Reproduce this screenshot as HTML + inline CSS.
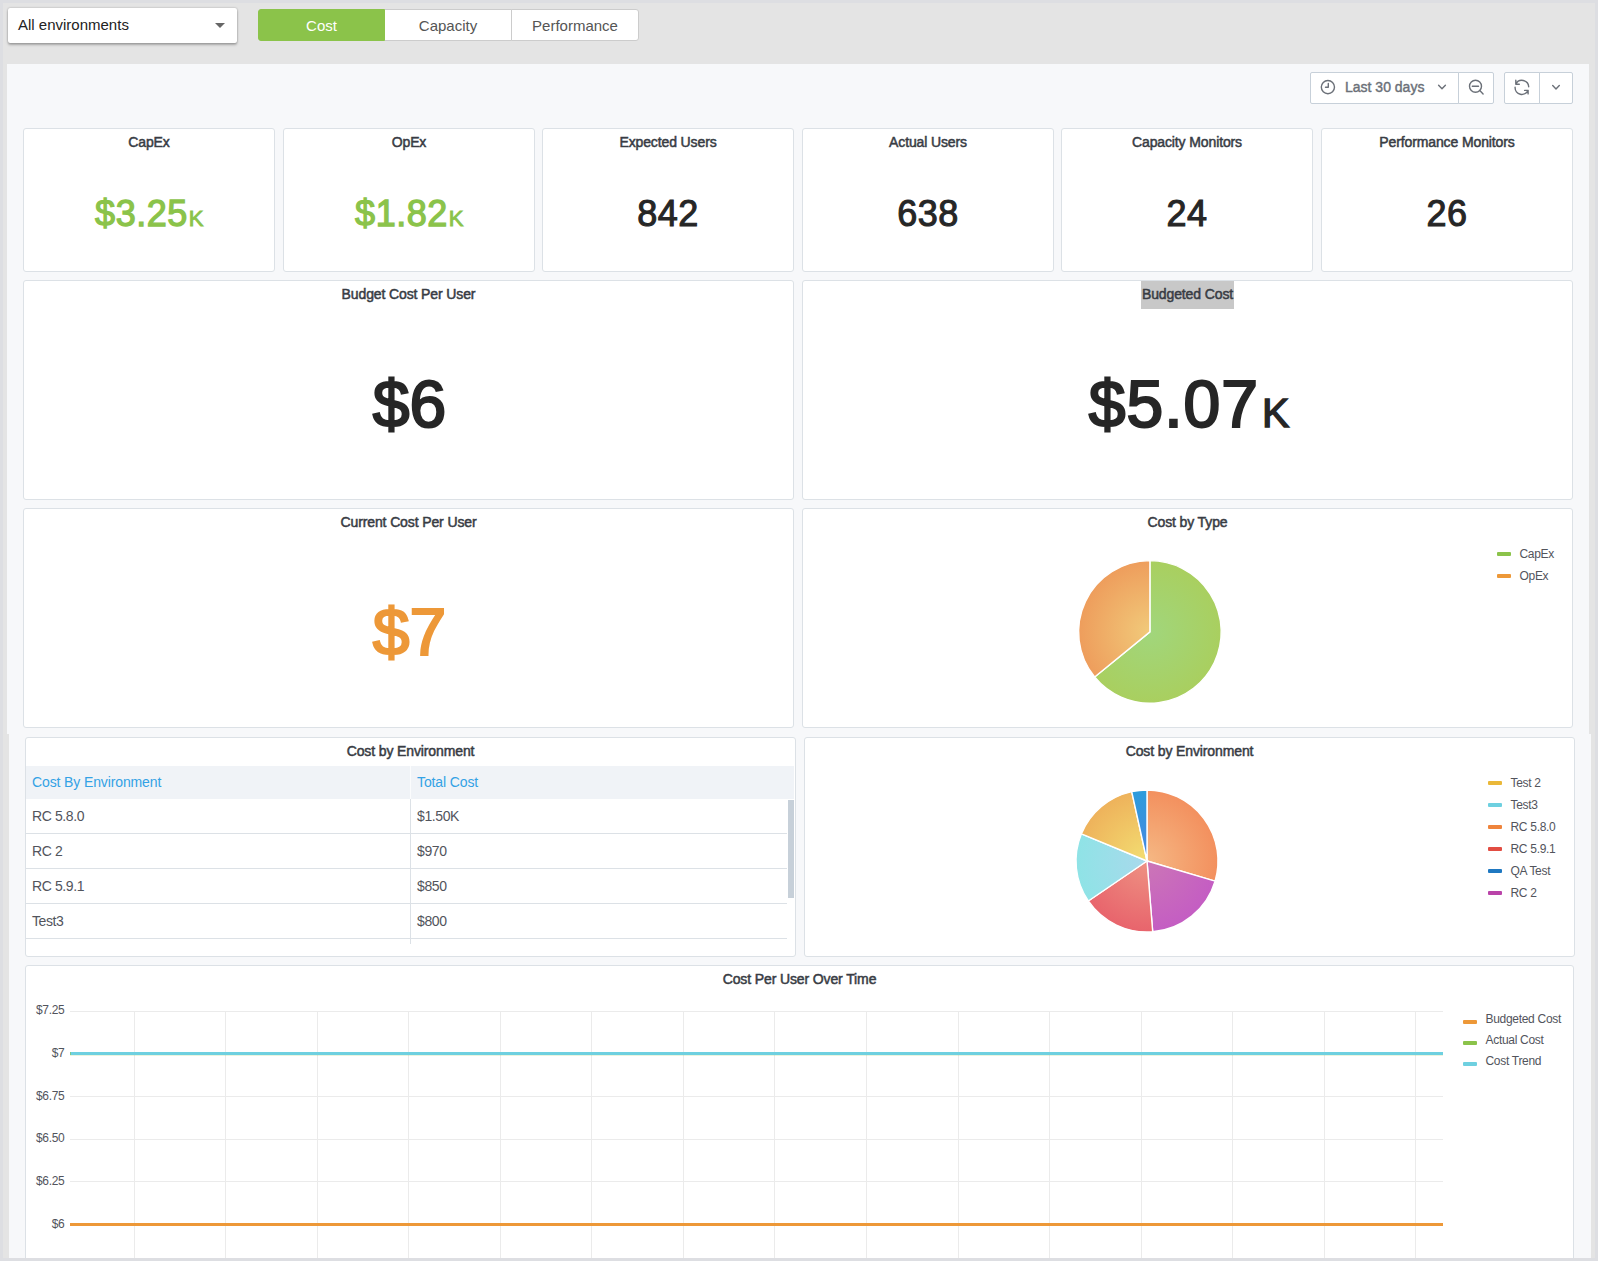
<!DOCTYPE html>
<html lang="en">
<head>
<meta charset="utf-8">
<title>Cost Dashboard</title>
<style>
*{box-sizing:border-box;margin:0;padding:0}
html,body{width:1598px;height:1261px;overflow:hidden}
body{background:#e4e4e4;font-family:"Liberation Sans",Arial,sans-serif;color:#52545c;position:relative}
.abs{position:absolute}
#frame{position:absolute;left:0;top:0;width:1598px;height:1261px;border:3px solid #dddee2;pointer-events:none;z-index:50}
/* toolbar */
#envsel{left:8px;top:8px;width:229px;height:35px;background:#fff;border-radius:2px;box-shadow:0 2px 2.5px rgba(0,0,0,.26),0 0 2px rgba(0,0,0,.3);font-size:15px;color:#222;line-height:33px;padding-left:10px}
#envsel i{position:absolute;left:207px;top:15px;width:0;height:0;border-left:5px solid transparent;border-right:5px solid transparent;border-top:5px solid #666}
.tab{position:absolute;top:9px;height:32px;background:#fff;border:1px solid #ccc;text-align:center;font-size:15px;line-height:31px;color:#555}
/* inner grafana */
.bg{background:#f7f8fa}
.panel{position:absolute;background:#fff;border:1px solid #dce1e6;border-radius:3px}
.title{position:absolute;left:0;right:0;top:0;height:28px;line-height:27px;text-align:center;font-size:14px;font-weight:normal;-webkit-text-stroke:0.5px #383c44;color:#383c44;white-space:nowrap;letter-spacing:-.12px}
.val{position:absolute;left:0;right:0;text-align:center;white-space:nowrap;font-weight:normal;-webkit-text-stroke:0.03em currentColor}
.btn{position:absolute;background:#fff;border:1px solid #c7d0d9;height:32px}
.leg{position:absolute;font-size:12px;line-height:14px;white-space:nowrap;color:#52545c;letter-spacing:-.3px}
.leg i{position:absolute;left:0;top:5px;width:14px;height:4px;border-radius:1px}
.leg span{position:absolute;left:22.5px;top:0}
.th{font-size:14px;line-height:32px;color:#33a2e5;white-space:nowrap;letter-spacing:-.12px}
.tr{left:0;width:761px;letter-spacing:-.4px;height:35px;border-bottom:1px solid #dce1e6;font-size:14px;line-height:34px;color:#52545c;white-space:nowrap}
.tr span{position:absolute;left:6px;top:0}.tr span+span{left:391px}
</style>
</head>
<body>
<div class="abs" id="envsel">All environments<i></i></div>
<div class="tab" style="left:258px;width:127px;background:#8bc34a;border-color:#8bc34a;color:#fff;border-radius:3px 0 0 3px">Cost</div>
<div class="tab" style="left:385px;width:127px;border-left:0">Capacity</div>
<div class="tab" style="left:511px;width:128px;border-radius:0 3px 3px 0">Performance</div>

<div class="abs bg" style="left:7px;top:64px;width:1582px;height:670px"></div>
<div class="abs bg" style="left:9px;top:734px;width:1582px;height:527px"></div>


<!-- time picker -->
<div class="btn" style="left:1310px;top:72px;width:149px;border-radius:2px 0 0 2px"></div>
<div class="btn" style="left:1458px;top:72px;width:36px;border-radius:0 2px 2px 0"></div>
<div class="btn" style="left:1504px;top:72px;width:36px;border-radius:2px 0 0 2px"></div>
<div class="btn" style="left:1539px;top:72px;width:34px;border-radius:0 2px 2px 0"></div>
<div class="abs" style="left:1345px;top:72px;height:32px;line-height:31px;font-size:14px;-webkit-text-stroke:0.4px #6b7078;color:#6b7078;white-space:nowrap">Last 30 days</div>
<svg class="abs" style="left:1310px;top:72px" width="264" height="32" viewBox="0 0 264 32" fill="none" stroke="#6b7078" stroke-width="1.4" stroke-linecap="round" stroke-linejoin="round">
<circle cx="17.9" cy="15.1" r="6.6"/><path d="M18.3 11.5v3.7h-2.8"/>
<path d="M128.6 13.2l3.4 3.5 3.4-3.5"/>
<circle cx="165.5" cy="14.3" r="6"/><path d="M162.3 14.3h6.2M169.8 18.6l3.3 3.3"/>
<path d="M205.8 12.2A6.8 6.8 0 0 1 218.7 14.8M218.1 18.4A6.8 6.8 0 0 1 205.1 15.3M205.8 8.300v3.900h3.500M218.100 21.900v-3.500h-3.500"/>
<path d="M242.700 13.500l3.300 3.400 3.300-3.400"/>
</svg>

<!-- row 1 stats -->
<div class="panel" style="left:23px;top:128px;width:252px;height:144px"><div class="title">CapEx</div><div class="val" style="top:62px;font-size:36px;line-height:46px;letter-spacing:.5px;-webkit-text-stroke-width:1.3px;padding-left:1px;color:#8bc34a">$3.25<span style="font-size:22px;-webkit-text-stroke-width:.9px;margin-left:1px">K</span></div></div>
<div class="panel" style="left:283px;top:128px;width:252px;height:144px"><div class="title">OpEx</div><div class="val" style="top:62px;font-size:36px;line-height:46px;letter-spacing:.5px;-webkit-text-stroke-width:1.3px;padding-left:1px;color:#8bc34a">$1.82<span style="font-size:22px;-webkit-text-stroke-width:.9px;margin-left:1px">K</span></div></div>
<div class="panel" style="left:542px;top:128px;width:252px;height:144px"><div class="title">Expected Users</div><div class="val" style="top:62px;font-size:36px;line-height:46px;letter-spacing:.5px;-webkit-text-stroke-width:1.05px;color:#262626">842</div></div>
<div class="panel" style="left:802px;top:128px;width:252px;height:144px"><div class="title">Actual Users</div><div class="val" style="top:62px;font-size:36px;line-height:46px;letter-spacing:.5px;-webkit-text-stroke-width:1.05px;color:#262626">638</div></div>
<div class="panel" style="left:1061px;top:128px;width:252px;height:144px"><div class="title">Capacity Monitors</div><div class="val" style="top:62px;font-size:36px;line-height:46px;letter-spacing:.5px;-webkit-text-stroke-width:1.05px;color:#262626">24</div></div>
<div class="panel" style="left:1321px;top:128px;width:252px;height:144px"><div class="title">Performance Monitors</div><div class="val" style="top:62px;font-size:36px;line-height:46px;letter-spacing:.5px;-webkit-text-stroke-width:1.05px;color:#262626">26</div></div>

<!-- row 2 -->
<div class="panel" style="left:23px;top:280px;width:771px;height:220px"><div class="title">Budget Cost Per User</div><div class="val" style="top:83px;padding-left:2px;font-size:66px;line-height:80px;-webkit-text-stroke-width:.034em;color:#262626">$6</div></div>
<div class="panel" style="left:802px;top:280px;width:771px;height:220px"><div class="title"><span style="background:#c8c8c8;display:inline-block;height:28px;padding:0 1px">Budgeted Cost</span></div><div class="val" style="top:83px;font-size:66px;line-height:80px;-webkit-text-stroke-width:.034em;color:#262626;letter-spacing:1px;padding-left:4px">$5.07<span style="font-size:41px;-webkit-text-stroke-width:1.4px;margin-left:3px">K</span></div></div>

<!-- row 3 -->
<div class="panel" style="left:23px;top:508px;width:771px;height:220px"><div class="title">Current Cost Per User</div><div class="val" style="top:83px;padding-left:2px;font-size:66px;line-height:80px;-webkit-text-stroke-width:.034em;color:#ed9838">$7</div></div>
<div class="panel" style="left:802px;top:508px;width:771px;height:220px"><div class="title">Cost by Type</div>
<div class="leg" style="left:694px;top:38px"><i style="background:#8bc34a"></i><span>CapEx</span></div>
<div class="leg" style="left:694px;top:60px"><i style="background:#ed9838"></i><span>OpEx</span></div>
</div>



<!-- table panel -->
<div class="panel" style="left:25px;top:737px;width:771px;height:220px;overflow:hidden"><div class="title">Cost by Environment</div>
<div class="abs" style="left:0;top:28px;width:768px;height:33px;background:#f0f3f7"></div>
<div class="abs" style="left:384px;top:28px;width:1px;height:33px;background:#fbfcfd"></div>
<div class="abs" style="left:384px;top:61px;width:1px;height:145px;background:#dce1e6"></div>
<div class="abs th" style="left:6px;top:28px">Cost By Environment</div><div class="abs th" style="left:391px;top:28px">Total Cost</div>
<div class="abs tr" style="top:61px"><span>RC 5.8.0</span><span>$1.50K</span></div>
<div class="abs tr" style="top:96px"><span>RC 2</span><span>$970</span></div>
<div class="abs tr" style="top:131px"><span>RC 5.9.1</span><span>$850</span></div>
<div class="abs tr" style="top:166px"><span>Test3</span><span>$800</span></div>
<div class="abs" style="left:762px;top:62px;width:6px;height:98px;background:#c7d0d9"></div>
</div>

<!-- pie 2 panel -->
<div class="panel" style="left:804px;top:737px;width:771px;height:220px;"><div class="title">Cost by Environment</div>
<div class="leg" style="left:683px;top:38px"><i style="background:#eab839"></i><span>Test 2</span></div>
<div class="leg" style="left:683px;top:60px"><i style="background:#6ed0e0"></i><span>Test3</span></div>
<div class="leg" style="left:683px;top:82px"><i style="background:#ef843c"></i><span>RC 5.8.0</span></div>
<div class="leg" style="left:683px;top:104px"><i style="background:#e24d42"></i><span>RC 5.9.1</span></div>
<div class="leg" style="left:683px;top:126px"><i style="background:#1f78c1"></i><span>QA Test</span></div>
<div class="leg" style="left:683px;top:148px"><i style="background:#ba43a9"></i><span>RC 2</span></div>
</div>

<!-- graph panel -->
<div class="panel" style="left:25px;top:965px;width:1549px;height:310px"><div class="title">Cost Per User Over Time</div>
<div class="leg" style="left:1437px;top:46px"><i style="background:#ed9838;top:8px"></i><span>Budgeted Cost</span></div>
<div class="leg" style="left:1437px;top:67px"><i style="background:#8bc34a;top:8px"></i><span>Actual Cost</span></div>
<div class="leg" style="left:1437px;top:88px"><i style="background:#6ed0e0;top:8px"></i><span>Cost Trend</span></div>
</div>
<svg class="abs" style="left:0;top:965px" width="1598" height="296" viewBox="0 965 1598 296" shape-rendering="crispEdges">
<g stroke="#ebebeb" stroke-width="1">
<path d="M70 1011.5H1443"/><path d="M70 1053.5H1443"/><path d="M70 1096.5H1443"/><path d="M70 1139.5H1443"/><path d="M70 1181.5H1443"/><path d="M70 1224.5H1443"/><path d="M134.5 1011V1261"/><path d="M225.5 1011V1261"/><path d="M317.5 1011V1261"/><path d="M408.5 1011V1261"/><path d="M500.5 1011V1261"/><path d="M591.5 1011V1261"/><path d="M683.5 1011V1261"/><path d="M774.5 1011V1261"/><path d="M866.5 1011V1261"/><path d="M958.5 1011V1261"/><path d="M1049.5 1011V1261"/><path d="M1141.5 1011V1261"/><path d="M1232.5 1011V1261"/><path d="M1324.5 1011V1261"/><path d="M1415.5 1011V1261"/>
</g>
<rect x="70" y="1052" width="1373" height="3" fill="#8bc34a"/><rect x="70" y="1055" width="1373" height="1" fill="#8bc34a" opacity=".18"/><rect x="71" y="1052" width="1372" height="3" fill="#6ed0e0"/><rect x="70" y="1052" width="1" height="3" fill="#6ed0e0" opacity=".45"/>
<rect x="70" y="1223" width="1373" height="3" fill="#ed9838"/>
<g font-family="Liberation Sans, Arial, sans-serif" font-size="12" fill="#52545c" text-anchor="end" letter-spacing="-0.3">
<text x="64.5" y="1014">$7.25</text><text x="64.5" y="1057">$7</text><text x="64.5" y="1100">$6.75</text><text x="64.5" y="1142">$6.50</text><text x="64.5" y="1185">$6.25</text><text x="64.5" y="1228">$6</text>
</g>
</svg>


<svg class="abs" style="left:0;top:0" width="1598" height="1261" viewBox="0 0 1598 1261"><defs><radialGradient id="pa0" gradientUnits="userSpaceOnUse" cx="1149.9" cy="631.9" r="71.3"><stop offset="0" stop-color="#a1d67c"/><stop offset="1" stop-color="#a9cf5f"/></radialGradient><radialGradient id="pa1" gradientUnits="userSpaceOnUse" cx="1149.9" cy="631.9" r="71.3"><stop offset="0" stop-color="#f1ca7a"/><stop offset="1" stop-color="#ee9d5c"/></radialGradient></defs><path d="M1149.9 631.9L1149.90 560.60A71.3 71.3 0 1 1 1094.67 676.99Z" fill="url(#pa0)" stroke="#fff" stroke-width="1.4" stroke-linejoin="round"/><path d="M1149.9 631.9L1094.67 676.99A71.3 71.3 0 0 1 1149.90 560.60Z" fill="url(#pa1)" stroke="#fff" stroke-width="1.4" stroke-linejoin="round"/><defs><radialGradient id="pb0" gradientUnits="userSpaceOnUse" cx="1147" cy="861" r="71"><stop offset="0" stop-color="#f5b884"/><stop offset="1" stop-color="#f3905e"/></radialGradient><radialGradient id="pb1" gradientUnits="userSpaceOnUse" cx="1147" cy="861" r="71"><stop offset="0" stop-color="#cc76b6"/><stop offset="1" stop-color="#c45dc3"/></radialGradient><radialGradient id="pb2" gradientUnits="userSpaceOnUse" cx="1147" cy="861" r="71"><stop offset="0" stop-color="#ee9283"/><stop offset="1" stop-color="#e8646c"/></radialGradient><radialGradient id="pb3" gradientUnits="userSpaceOnUse" cx="1147" cy="861" r="71"><stop offset="0" stop-color="#a9d9ec"/><stop offset="1" stop-color="#8fe3e6"/></radialGradient><radialGradient id="pb4" gradientUnits="userSpaceOnUse" cx="1147" cy="861" r="71"><stop offset="0" stop-color="#f3de72"/><stop offset="1" stop-color="#eeb25b"/></radialGradient><radialGradient id="pb5" gradientUnits="userSpaceOnUse" cx="1147" cy="861" r="71"><stop offset="0" stop-color="#4a86df"/><stop offset="1" stop-color="#2c9cdc"/></radialGradient></defs><path d="M1147 861L1147.00 790.00A71 71 0 0 1 1215.07 881.18Z" fill="url(#pb0)" stroke="#fff" stroke-width="1.4" stroke-linejoin="round"/><path d="M1147 861L1215.07 881.18A71 71 0 0 1 1152.71 931.77Z" fill="url(#pb1)" stroke="#fff" stroke-width="1.4" stroke-linejoin="round"/><path d="M1147 861L1152.71 931.77A71 71 0 0 1 1088.32 900.97Z" fill="url(#pb2)" stroke="#fff" stroke-width="1.4" stroke-linejoin="round"/><path d="M1147 861L1088.32 900.97A71 71 0 0 1 1081.43 833.78Z" fill="url(#pb3)" stroke="#fff" stroke-width="1.4" stroke-linejoin="round"/><path d="M1147 861L1081.43 833.78A71 71 0 0 1 1131.72 791.66Z" fill="url(#pb4)" stroke="#fff" stroke-width="1.4" stroke-linejoin="round"/><path d="M1147 861L1131.72 791.66A71 71 0 0 1 1147.00 790.00Z" fill="url(#pb5)" stroke="#fff" stroke-width="1.4" stroke-linejoin="round"/></svg>
<div id="frame"></div>
</body>
</html>
